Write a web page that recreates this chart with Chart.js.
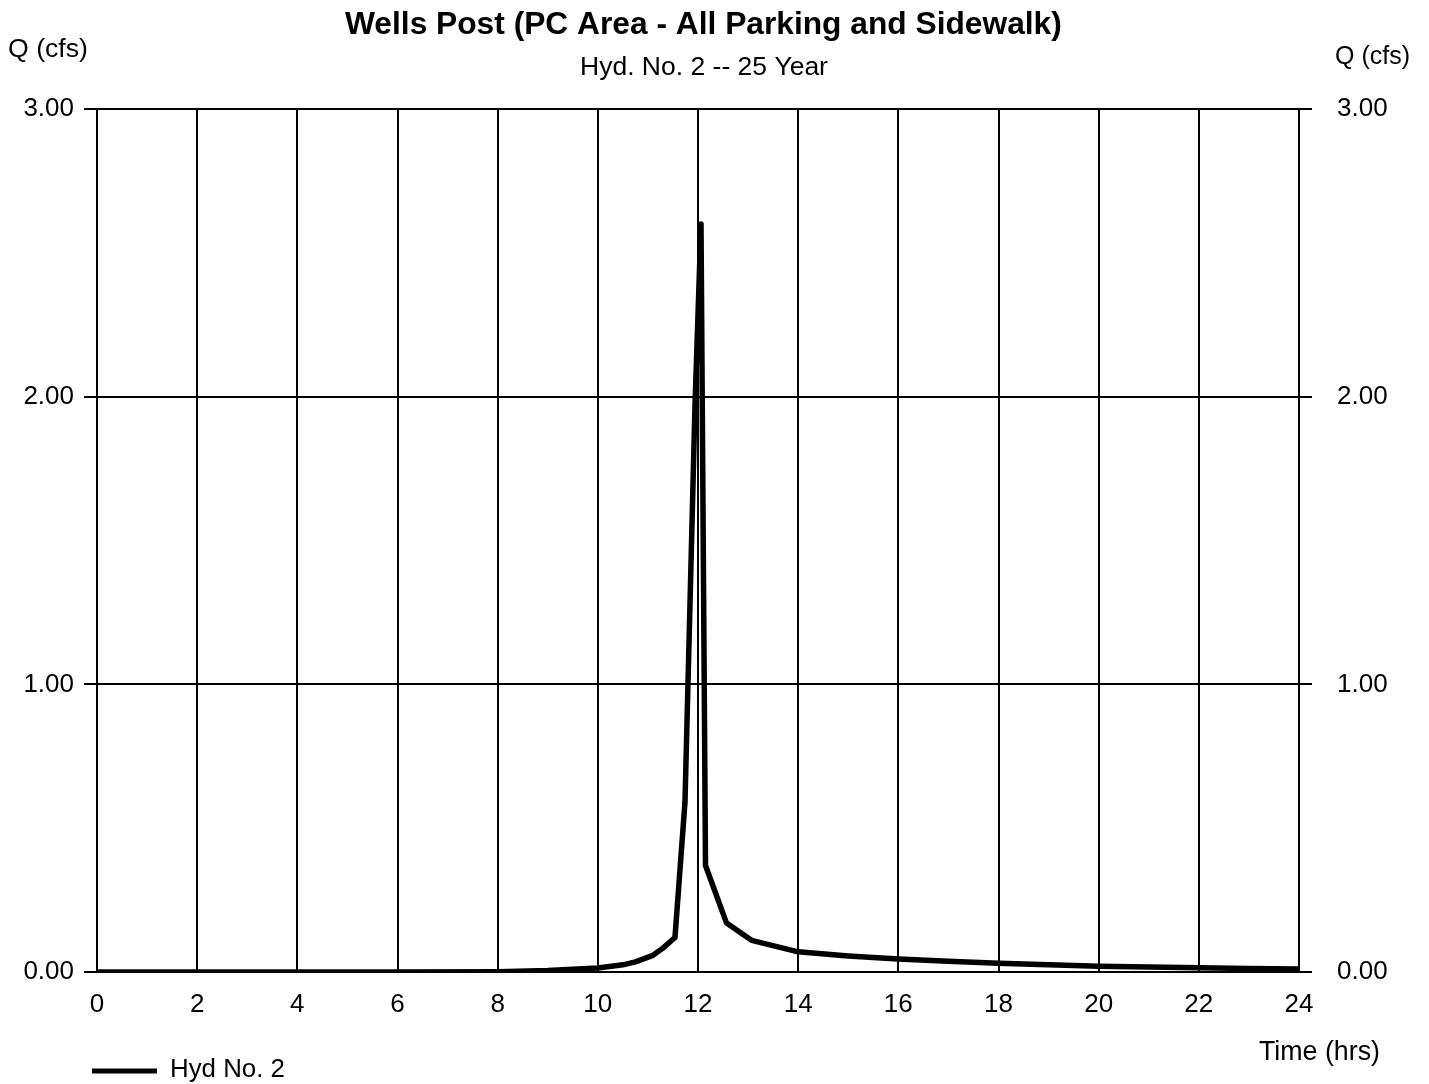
<!DOCTYPE html>
<html>
<head>
<meta charset="utf-8">
<script src="https://cdn.jsdelivr.net/npm/chart.js@4/dist/chart.umd.min.js"></script>
<style>
    body { margin: 0; background: #fff; }
    #wrap { width: 1429px; height: 1084px; position: relative; }
</style>
</head>
<body>
<div id="wrap"><canvas id="chart1"></canvas></div>
<script>
// hydrograph: time (hrs) vs flow (cfs)
const times = [0, 2, 4, 6, 8, 9, 10, 10.5, 10.75, 11.1, 11.3, 11.54, 11.74, 11.94, 12.06, 12.15, 12.57, 13.07, 14.0, 15.0, 16, 17, 18, 19, 20, 21, 22, 23, 24]
const flows = [0, 0, 0, 0, 0.001, 0.005, 0.014, 0.025, 0.035, 0.058, 0.083, 0.12, 0.59, 1.97, 2.60, 0.37, 0.17, 0.11, 0.07, 0.056, 0.045, 0.037, 0.03, 0.025, 0.02, 0.017, 0.015, 0.012, 0.01]

const xTicks = [0, 24, 2]        // min, max, step
const yTicks = [0, 3, 1]

const titleText = "Wells Post (PC Area - All Parking and Sidewalk)"
const subtitleText = "Hyd. No. 2 -- 25 Year"
const yAxisLabel = "Q (cfs)"
const xAxisLabel = "Time (hrs)"
const seriesName = "Hyd No. 2"

const FONT = "'Liberation Sans', Arial, Helvetica, sans-serif"

// draw a text string scaled to a target width
function fitText(ctx, txt, x, y, w, bold) {
    const weight = bold ? "bold " : ""
    ctx.font = weight + "100px " + FONT
    const size = 100 * w / ctx.measureText(txt).width
    ctx.font = weight + size.toFixed(2) + "px " + FONT
    ctx.textAlign = "left"
    ctx.textBaseline = "middle"
    ctx.fillText(txt, x, y)
}

const labelsPlugin = {
    id: "labels",
    afterDraw(chart) {
        const ctx = chart.ctx
        ctx.save()
        ctx.fillStyle = "#000"
        fitText(ctx, titleText, 345, 25, 717, true)
        fitText(ctx, subtitleText, 580, 68, 248, false)
        fitText(ctx, yAxisLabel, 8, 50, 80, false)
        fitText(ctx, yAxisLabel, 1335, 57, 75, false)
        fitText(ctx, xAxisLabel, 1259, 1053, 121, false)

        // legend
        ctx.strokeStyle = "#000"
        ctx.lineWidth = 5
        ctx.beginPath()
        ctx.moveTo(92, 1071)
        ctx.lineTo(157, 1071)
        ctx.stroke()
        fitText(ctx, seriesName, 170, 1070, 115, false)
        ctx.restore()
    }
}

const tickFont = { family: FONT, size: 26 }

const chartData = {
    "type": "line",
    "data": {
        "datasets": [{
            "label": seriesName,
            "data": times.map((t, i) => ({ x: t, y: flows[i] })),
            "borderColor": "#000",
            "borderWidth": 5.5,
            "pointRadius": 0,
            "tension": 0,
            "fill": false,
            "borderJoinStyle": "round",
            "borderCapStyle": "round"
        }]
    },
    "options": {
        "responsive": true,
        "maintainAspectRatio": false,
        "animation": false,
        "layout": { "padding": { "top": 109, "left": 0, "right": 0, "bottom": 0 } },
        "plugins": {
            "legend": { "display": false },
            "tooltip": { "enabled": false }
        },
        "scales": {
            "x": {
                "type": "linear",
                "min": xTicks[0],
                "max": xTicks[1],
                "ticks": { "stepSize": xTicks[2], "color": "#000", "font": tickFont, "padding": 17, "maxRotation": 0 },
                "grid": { "color": "#000", "lineWidth": 2, "drawTicks": false },
                "border": { "color": "#000", "width": 2 },
                "afterFit": s => { s.height = 112 }
            },
            "y": {
                "position": "left",
                "min": yTicks[0],
                "max": yTicks[1],
                "ticks": { "stepSize": yTicks[2], "color": "#000", "font": tickFont, "padding": 10,
                           "callback": v => v.toFixed(2) },
                "grid": { "color": "#000", "lineWidth": 2, "tickLength": 13 },
                "border": { "color": "#000", "width": 2 },
                "afterFit": s => { s.width = 97 }
            },
            "y2": {
                "position": "right",
                "min": yTicks[0],
                "max": yTicks[1],
                "ticks": { "stepSize": yTicks[2], "color": "#000", "font": tickFont, "padding": 25,
                           "callback": v => v.toFixed(2) },
                "grid": { "color": "#000", "lineWidth": 2, "tickLength": 13, "drawOnChartArea": false },
                "border": { "color": "#000", "width": 2 },
                "afterFit": s => { s.width = 130 }
            }
        }
    },
    "plugins": [labelsPlugin]
}

const ctx = document.getElementById("chart1").getContext("2d")
const chart = new Chart(ctx, chartData)
</script>
</body>
</html>
